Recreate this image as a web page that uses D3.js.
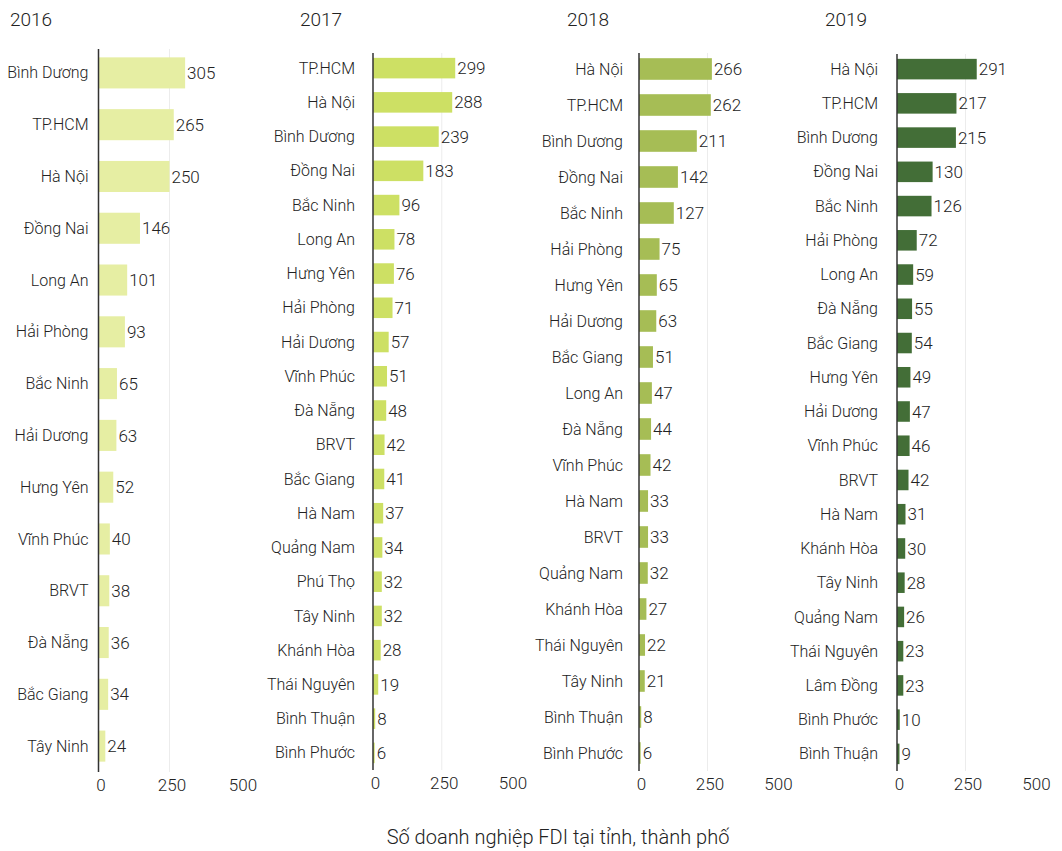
<!DOCTYPE html>
<html><head><meta charset="utf-8">
<script src="https://cdn.jsdelivr.net/npm/d3@7"></script>
<style>
body{margin:0;background:#fff;}
text{font-family:Roboto,"Noto Sans",sans-serif;fill:#222;font-weight:300;}
</style></head>
<body><svg id="chart" width="1062" height="851"></svg>
<script>
const years = ["2016","2017","2018","2019"];

const cat2016 = ["Bình Dương","TP.HCM","Hà Nội","Đồng Nai","Long An","Hải Phòng","Bắc Ninh","Hải Dương","Hưng Yên","Vĩnh Phúc","BRVT","Đà Nẵng","Bắc Giang","Tây Ninh"];
const val2016 = [305,265,250,146,101,93,65,63,52,40,38,36,34,24];

const cat2017 = ["TP.HCM","Hà Nội","Bình Dương","Đồng Nai","Bắc Ninh","Long An","Hưng Yên","Hải Phòng","Hải Dương","Vĩnh Phúc","Đà Nẵng","BRVT","Bắc Giang","Hà Nam","Quảng Nam","Phú Thọ","Tây Ninh","Khánh Hòa","Thái Nguyên","Bình Thuận","Bình Phước"];
const val2017 = [299,288,239,183,96,78,76,71,57,51,48,42,41,37,34,32,32,28,19,8,6];

const cat2018 = ["Hà Nội","TP.HCM","Bình Dương","Đồng Nai","Bắc Ninh","Hải Phòng","Hưng Yên","Hải Dương","Bắc Giang","Long An","Đà Nẵng","Vĩnh Phúc","Hà Nam","BRVT","Quảng Nam","Khánh Hòa","Thái Nguyên","Tây Ninh","Bình Thuận","Bình Phước"];
const val2018 = [266,262,211,142,127,75,65,63,51,47,44,42,33,33,32,27,22,21,8,6];

const cat2019 = ["Hà Nội","TP.HCM","Bình Dương","Đồng Nai","Bắc Ninh","Hải Phòng","Long An","Đà Nẵng","Bắc Giang","Hưng Yên","Hải Dương","Vĩnh Phúc","BRVT","Hà Nam","Khánh Hòa","Tây Ninh","Quảng Nam","Thái Nguyên","Lâm Đồng","Bình Phước","Bình Thuận"];
const val2019 = [291,217,215,130,126,72,59,55,54,49,47,46,42,31,30,28,26,23,23,10,9];

const xTicks = [0,250,500];
const axisTitle = "Số doanh nghiệp FDI tại tỉnh, thành phố";

const colors = ["#e6eea3","#cde064","#a6bd55","#436e37"];

// layout (positions only)
const layout = [
  {x0:98.5, w:142,   y0:47, y1:772, gap:10, titleX:10},
  {x0:373,  w:137.5, y0:51, y1:770, gap:18, titleX:300},
  {x0:639,  w:137,   y0:51, y1:771, gap:16, titleX:567},
  {x0:897,  w:137,   y0:52, y1:771, gap:19, titleX:825}
];
const cats = [cat2016,cat2017,cat2018,cat2019];
const vals = [val2016,val2017,val2018,val2019];

const svg = d3.select("#chart");

years.forEach((yr,i)=>{
  const L = layout[i];
  const x = d3.scaleLinear().domain([0,500]).range([L.x0, L.x0+L.w]);
  const y = d3.scaleBand().domain(cats[i]).range([L.y0, L.y1]).paddingInner(0.4).paddingOuter(0.2);
  const g = svg.append("g");
  const data = cats[i].map((c,j)=>({c, v: vals[i][j]}));

  // gridline at 250
  g.selectAll("line.grid").data(xTicks.filter(t=>t>0 && t<500)).join("line")
    .attr("x1",d=>x(d)).attr("x2",d=>x(d))
    .attr("y1",L.y0+2).attr("y2",L.y1)
    .attr("stroke","#ececec").attr("stroke-width",1);

  g.selectAll("rect").data(data).join("rect")
    .attr("x",x(0)).attr("y",d=>y(d.c))
    .attr("width",d=>x(d.v)-x(0)).attr("height",y.bandwidth())
    .attr("fill",colors[i]);

  // axis line
  g.append("line").attr("x1",x(0)).attr("x2",x(0))
    .attr("y1",L.y0+2).attr("y2",L.y1)
    .attr("stroke","#333").attr("stroke-width",1.5);

  // category labels
  g.selectAll("text.cat").data(data).join("text").attr("class","cat")
    .attr("x",x(0)-L.gap).attr("y",d=>y(d.c)+y.bandwidth()/2)
    .attr("dy","0.35em").attr("text-anchor","end")
    .style("font-size","16px").text(d=>d.c);

  // value labels
  g.selectAll("text.val").data(data).join("text").attr("class","val")
    .attr("x",d=>x(d.v)+2).attr("y",d=>y(d.c)+y.bandwidth()/2)
    .attr("dy","0.36em").style("font-size","17px").text(d=>d.v);

  // x axis ticks
  const ax = d3.axisBottom(x).tickValues(xTicks).tickSize(0).tickPadding(6).tickFormat(d3.format("d"));
  const axg = g.append("g").attr("transform",`translate(2,${L.y1+1})`).call(ax);
  axg.select(".domain").remove();
  axg.selectAll("text").style("font-size","17px").style("font-family","Roboto").style("font-weight","300").attr("fill","#222");

  // year title
  svg.append("text").attr("x",L.titleX).attr("y",26)
    .style("font-size","19px").text(yr);
});

svg.append("text").attr("x",558).attr("y",844).attr("text-anchor","middle")
  .style("font-size","20px").text(axisTitle);
</script></body></html>
